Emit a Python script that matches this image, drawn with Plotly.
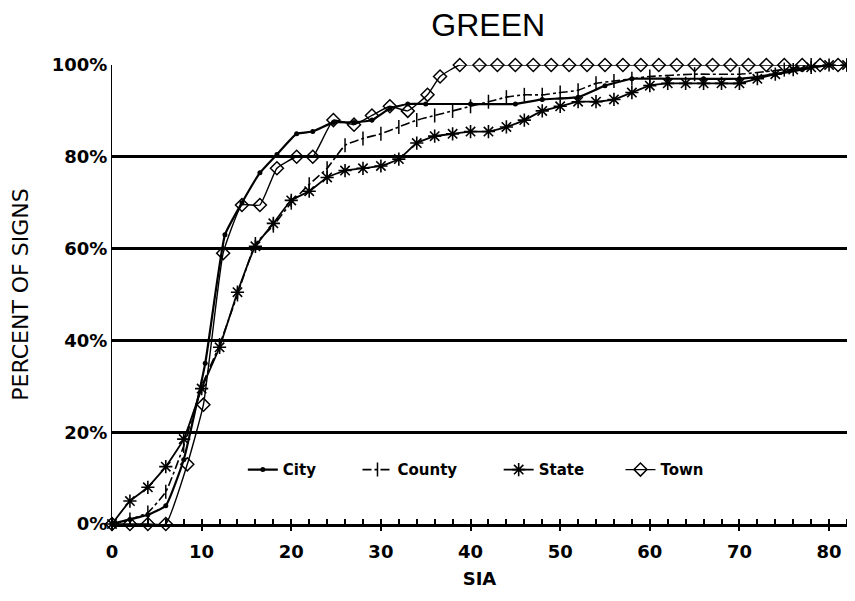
import plotly.graph_objects as go

# ---- data ----
city_x = [0, 2, 4, 6, 8, 10.4, 12.6, 14.5, 16.5, 18.4, 20.6, 22.4, 24.7, 27, 29, 31, 33, 35, 40, 45, 48, 52, 55, 58, 62, 66, 70, 74, 77, 80, 82]
city_y = [0, 1, 2, 4, 14, 35, 63, 70, 76.5, 80.5, 85, 85.5, 87.5, 87.5, 88, 90.5, 91.5, 91.5, 91.5, 91.5, 92.5, 93, 95.5, 97, 97, 97, 97, 98, 99, 100, 100]

county_x = [0, 2, 4, 6, 8, 10, 12, 14, 16, 18, 20, 22, 24, 26, 28, 30, 32, 34, 36, 38, 40, 42, 44, 46, 48, 50, 52, 54, 56, 58, 60, 65, 70, 75, 78, 82]
county_y = [0, 1, 2.5, 7, 17, 30, 39, 50, 61, 65, 70, 74, 77.5, 82.5, 84, 85, 86.5, 88, 89, 90, 91, 92, 93, 93.5, 93.5, 94, 94.5, 96, 96.5, 97, 97.5, 98, 98, 99, 100, 100]

state_x = list(range(0, 84, 2))
state_y = [0, 5, 8, 12.5, 18.5, 29.5, 38.5, 50.5, 60.5, 65.5, 70.5, 72.5, 75.5, 77, 77.5, 78, 79.5, 83, 84.5, 85, 85.5,
           85.5, 86.5, 88, 90, 91, 92, 92, 92.5, 94, 95.5, 96, 96, 96, 96, 96, 97, 98, 99, 99.5, 100, 100]

town_x = [0, 2, 4, 6, 8.4, 10.2, 12.4, 14.5, 16.5, 18.4, 20.6, 22.4, 24.7, 27, 29, 31, 33, 35.2, 36.6, 38.8,
          41, 43, 45, 47, 49, 51, 53, 55, 57, 59, 61, 63, 65, 67, 69, 71, 73, 75, 77, 79, 81]
town_y = [0, 0, 0, 0, 13, 26, 59, 69.5, 69.5, 77.5, 80, 80, 88, 87, 89, 91, 90, 93.5, 97.5, 100,
          100, 100, 100, 100, 100, 100, 100, 100, 100, 100, 100, 100, 100, 100, 100, 100, 100, 100, 100, 100, 100]

x_ticks = [0, 10, 20, 30, 40, 50, 60, 70, 80]
y_ticks = [0, 20, 40, 60, 80, 100]
y_tick_text = ["0%", "20%", "40%", "60%", "80%", "100%"]

nb = "\u00a0"

fig = go.Figure()
fig.add_trace(go.Scatter(
    x=city_x, y=city_y, name="City" + nb * 7, mode="lines+markers",
    line=dict(color="black", width=2.2, shape="spline", smoothing=0.4),
    marker=dict(symbol="circle", size=5, color="black"), cliponaxis=False))
fig.add_trace(go.Scatter(
    x=county_x, y=county_y, name="County" + nb * 7, mode="lines+markers",
    line=dict(color="black", width=1.6, dash="dashdot", shape="spline", smoothing=0.4),
    marker=dict(symbol="line-ns-open", size=10, line=dict(color="black", width=1.5)), cliponaxis=False))
fig.add_trace(go.Scatter(
    x=state_x, y=state_y, name="State" + nb * 6, mode="lines+markers",
    line=dict(color="black", width=1.8, shape="spline", smoothing=0.4),
    marker=dict(symbol="asterisk-open", size=11, line=dict(color="black", width=1.6)), cliponaxis=False))
fig.add_trace(go.Scatter(
    x=town_x, y=town_y, name="Town", mode="lines+markers",
    line=dict(color="black", width=1.4, shape="spline", smoothing=0.4),
    marker=dict(symbol="diamond-open", size=10, line=dict(color="black", width=1.5)), cliponaxis=False))

fig.update_layout(
    width=847, height=593,
    margin=dict(l=104, r=8, t=57, b=77),
    paper_bgcolor="white", plot_bgcolor="white",
    font=dict(family="DejaVu Sans", color="black"),
    title=dict(text="GREEN", x=0.567, xanchor="center", y=0.99, yanchor="top",
               font=dict(family="Liberation Sans", size=32, color="black")),
    showlegend=True,
    legend=dict(orientation="h", x=0.178, xanchor="left", y=0.118, yanchor="middle",
                font=dict(family="DejaVu Sans", size=15, color="black", weight="bold"),
                bgcolor="rgba(0,0,0,0)", borderwidth=0),
)

fig.update_xaxes(
    range=[0, 82.0], tickmode="array", tickvals=x_ticks,
    showgrid=False, zeroline=False, automargin=False,
    showline=True, linecolor="black", linewidth=3,
    ticks="outside", ticklen=4, tickcolor="black", tickwidth=1.5,
    ticklabelstandoff=5,
    tickfont=dict(family="DejaVu Sans", size=18, color="black", weight="bold"),
    minor=dict(dtick=2, ticks="inside", ticklen=5, tickcolor="black", tickwidth=1.5, showgrid=False),
    title=dict(text="SIA", standoff=12, font=dict(family="DejaVu Sans", size=18, color="black", weight="bold")),
)
fig.update_yaxes(
    range=[0, 100], tickmode="array", tickvals=y_ticks, ticktext=y_tick_text,
    showgrid=True, gridcolor="black", gridwidth=2.7, zeroline=False, automargin=False,
    showline=True, linecolor="black", linewidth=1, mirror=True,
    ticks="", ticklabelstandoff=0,
    tickfont=dict(family="DejaVu Sans", size=18, color="black", weight="bold"),
    title=dict(text="PERCENT OF SIGNS", standoff=17, font=dict(family="DejaVu Sans", size=22, color="black")),
)

fig.write_html("out.html")
